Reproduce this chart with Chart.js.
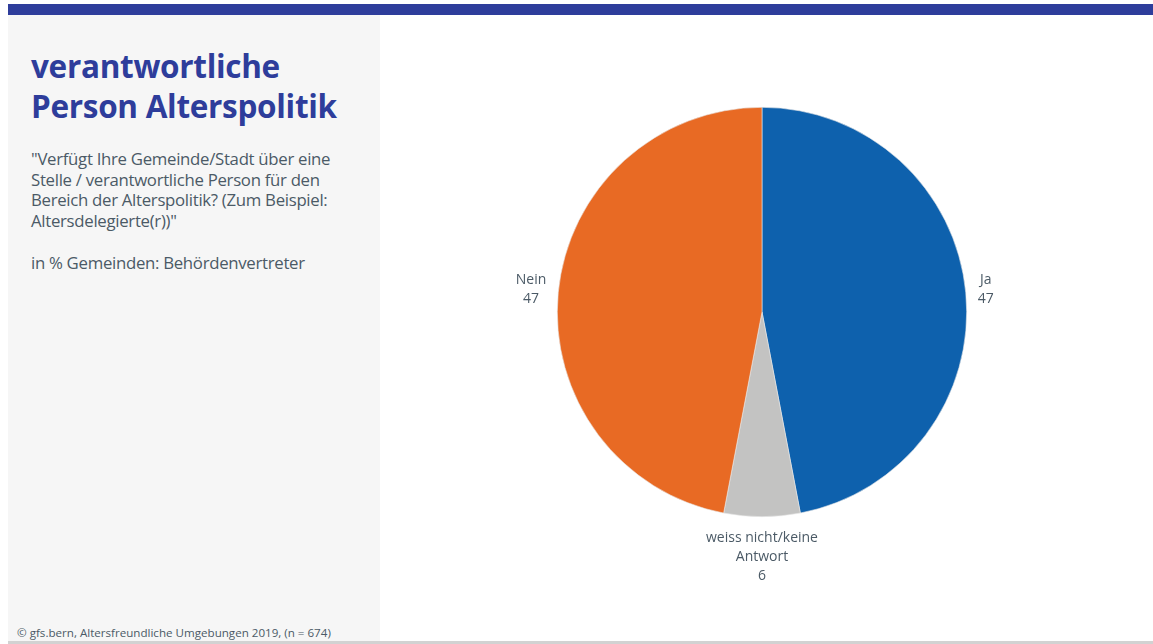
<!DOCTYPE html>
<html lang="de">
<head>
<meta charset="utf-8">
<title>verantwortliche Person Alterspolitik</title>
<script src="https://cdn.jsdelivr.net/npm/chart.js@4"></script>
<style>
  html, body { margin: 0; padding: 0; background: #fff; }
  body { width: 1153px; height: 644px; position: relative; overflow: hidden;
         font-family: "Open Sans", "Noto Sans", sans-serif; color: #4b5a66; }
  .topbar { position: absolute; left: 8px; top: 4px; width: 1145px; height: 11px; background: #2e3d9b; }
  .side { position: absolute; left: 8px; top: 15px; width: 372px; height: 626px; background: #f6f6f6; }
  .bottombar { position: absolute; left: 8px; top: 641px; width: 1145px; height: 3px; background: #d2d2d2; }
  h1 { position: absolute; left: 31px; top: 46px; margin: 0; font-size: 31.5px; line-height: 40px;
       font-weight: 700; color: #2e3d9b; letter-spacing: -0.3px; white-space: nowrap; }
  .question { position: absolute; left: 31px; top: 149px; margin: 0; white-space: nowrap;
              font-size: 16.8px; line-height: 20.5px; letter-spacing: -0.3px; }
  .base { position: absolute; left: 31px; top: 253px; margin: 0; white-space: nowrap;
          font-size: 16.8px; line-height: 20px; letter-spacing: -0.3px; }
  .source { position: absolute; left: 17px; top: 625px; margin: 0; font-size: 11.6px; white-space: nowrap; }
  .chart { position: absolute; left: 462px; top: 12px; width: 600px; height: 600px; }
</style>
</head>
<body>
<div class="topbar"></div>
<div class="side"></div>
<div class="bottombar"></div>
<h1>verantwortliche<br>Person Alterspolitik</h1>
<p class="question">"Verfügt Ihre Gemeinde/Stadt über eine<br>Stelle / verantwortliche Person für den<br>Bereich der Alterspolitik? (Zum Beispiel:<br>Altersdelegierte(r))"</p>
<p class="base">in % Gemeinden: Behördenvertreter</p>
<p class="source">© gfs.bern, Altersfreundliche Umgebungen 2019, (n = 674)</p>
<div class="chart"><canvas id="pieChart"></canvas></div>

<script>
const categories = [["Ja"], ["weiss nicht/keine", "Antwort"], ["Nein"]];
const shares = [47, 6, 47];
const sliceColors = ["#0e61ad", "#c3c3c2", "#e86a24"];

// labels sit just outside the rim, pushed outwards along the slice's mid angle
const outsideLabels = {
  id: "outsideLabels",
  afterDatasetsDraw(chart) {
    const { ctx } = chart;
    const meta = chart.getDatasetMeta(0);
    const lineH = 19;
    ctx.save();
    ctx.font = "14px 'Open Sans', 'Noto Sans', sans-serif";
    ctx.fillStyle = "#4b5a66";
    ctx.textAlign = "center";
    ctx.textBaseline = "middle";
    meta.data.forEach((arc, i) => {
      const { x, y, startAngle, endAngle, outerRadius } = arc.getProps(
        ["x", "y", "startAngle", "endAngle", "outerRadius"], true);
      const mid = (startAngle + endAngle) / 2;
      const lines = [...categories[i], String(shares[i])];
      const w = Math.max(...lines.map((l) => ctx.measureText(l).width));
      const h = lines.length * lineH;
      const dx = Math.cos(mid), dy = Math.sin(mid);
      const r = outerRadius + 12;
      const cx = x + r * dx + dx * w / 2;
      const cy = y + r * dy + dy * h / 2;
      lines.forEach((l, k) => {
        ctx.fillText(l, cx, cy - h / 2 + lineH * (k + 0.5));
      });
    });
    ctx.restore();
  },
};

new Chart(document.getElementById("pieChart"), {
  type: "pie",
  data: {
    labels: categories.map((c) => c.join(" ")),
    datasets: [{
      data: shares,
      backgroundColor: sliceColors,
      borderColor: "#e8e8e8",
      borderWidth: 0.6,
    }],
  },
  options: {
    responsive: true,
    maintainAspectRatio: false,
    animation: false,
    layout: { padding: 95 },
    plugins: { legend: { display: false }, tooltip: { enabled: false } },
  },
  plugins: [outsideLabels],
});
</script>
</body>
</html>
